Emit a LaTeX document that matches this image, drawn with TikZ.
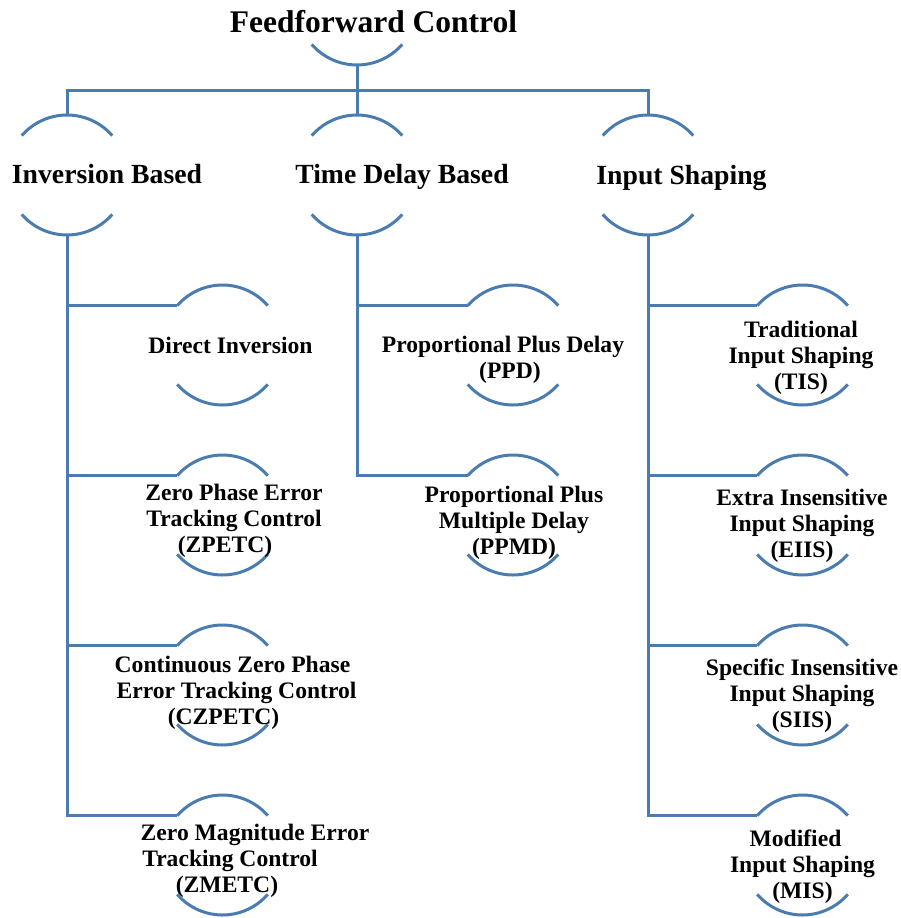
\documentclass[tikz,border=0pt]{standalone}
\usepackage{fontspec}
\setmainfont{Liberation Serif}
\definecolor{linkblue}{RGB}{74,124,176}
\newcommand\ringarcs[1]{%
  \draw[link] ([shift={(41:60)}]#1) arc[start angle=41,end angle=139,radius=60];
  \draw[link] ([shift={(221:60)}]#1) arc[start angle=221,end angle=319,radius=60];}
\begin{document}
\begin{tikzpicture}[x=1pt,y=1pt,
  link/.style={draw=linkblue, line width=3pt},
  toptext/.style={font=\bfseries\fontsize{31.5}{34}\selectfont, inner sep=0pt, anchor=base},
  midtext/.style={font=\bfseries\fontsize{27.7}{30}\selectfont, inner sep=0pt, anchor=base},
  leaftext/.style={font=\bfseries\fontsize{23.6}{26}\selectfont, align=center, inner sep=0pt, anchor=base},
]
\useasboundingbox (0,0) rectangle (901,-918);
% circle centres
\coordinate (ff) at (357,-5);
\coordinate (inv) at (67,-175);
\coordinate (tdb) at (357,-175);
\coordinate (ins) at (648,-175);
\coordinate (di) at (222.5,-345);
\coordinate (zp) at (222.5,-515);
\coordinate (cz) at (222.5,-685);
\coordinate (zm) at (222.5,-855);
\coordinate (ppd) at (513,-345);
\coordinate (ppmd) at (513,-515);
\coordinate (tis) at (802.5,-345);
\coordinate (eiis) at (802.5,-515);
\coordinate (siis) at (802.5,-685);
\coordinate (mis) at (802.5,-855);
\foreach \c in {di,zp,cz,zm,ppd,ppmd,tis,eiis,siis,mis}{
  \coordinate (\c-w) at ([shift={(139:60)}]\c);
}
% arcs
\draw[link] ([shift={(221:60)}]ff) arc[start angle=221,end angle=319,radius=60];
\ringarcs{inv}\ringarcs{tdb}\ringarcs{ins}
\ringarcs{di}\ringarcs{zp}\ringarcs{cz}\ringarcs{zm}
\ringarcs{ppd}\ringarcs{ppmd}
\ringarcs{tis}\ringarcs{eiis}\ringarcs{siis}\ringarcs{mis}
% connectors
\coordinate (bus) at (357,-90);
\draw[link] ([yshift=-60pt]ff) -- (bus);
\draw[link] ([yshift=60pt]inv) |- (bus) -| ([yshift=60pt]ins);
\draw[link] (bus) -- ([yshift=60pt]tdb);
\draw[link] ([yshift=-60pt]inv) |- (zm-w);
\draw[link] (inv |- di-w) -- (di-w);
\draw[link] (inv |- zp-w) -- (zp-w);
\draw[link] (inv |- cz-w) -- (cz-w);
\draw[link] ([yshift=-60pt]tdb) |- (ppmd-w);
\draw[link] (tdb |- ppd-w) -- (ppd-w);
\draw[link] ([yshift=-60pt]ins) |- (mis-w);
\draw[link] (ins |- tis-w) -- (tis-w);
\draw[link] (ins |- eiis-w) -- (eiis-w);
\draw[link] (ins |- siis-w) -- (siis-w);
% texts (multi-line nodes: base = last line)
\node[toptext] (t-ff) at (373.5,-32) {Feedforward Control};
\node[midtext] (t-inv) at (107,-183) {Inversion Based};
\node[midtext] (t-tdb) at (402,-183) {Time Delay Based};
\node[midtext] (t-ins) at (681.5,-184) {Input Shaping};
\node[leaftext] (t-di) at (230.5,-353) {Direct Inversion};
\node[leaftext] (t-zp) at (234,-552) {Zero Phase Error\\Tracking Control\\\hbox{(ZPETC)\kern18pt}};
\node[leaftext] (t-cz) at (236.5,-724) {\hbox{Continuous Zero Phase\kern8pt}\\Error Tracking Control\\\hbox{(CZPETC)\kern26pt}};
\node[leaftext] (t-zm) at (255,-892) {Zero Magnitude Error\\\hbox{Tracking Control\kern50pt}\\\hbox{(ZMETC)\kern56pt}};
\node[leaftext] (t-ppd) at (503,-378) {Proportional Plus Delay\\\hbox{\kern14pt(PPD)}};
\node[leaftext] (t-ppmd) at (514,-554) {Proportional Plus\\Multiple Delay\\(PPMD)};
\node[leaftext] (t-tis) at (801,-389) {Traditional\\Input Shaping\\(TIS)};
\node[leaftext] (t-eiis) at (802,-557) {Extra Insensitive\\Input Shaping\\(EIIS)};
\node[leaftext] (t-siis) at (802,-727) {Specific Insensitive\\Input Shaping\\(SIIS)};
\node[leaftext] (t-mis) at (802.5,-898) {\hbox{Modified\kern14pt}\\Input Shaping\\(MIS)};
\end{tikzpicture}
\end{document}
